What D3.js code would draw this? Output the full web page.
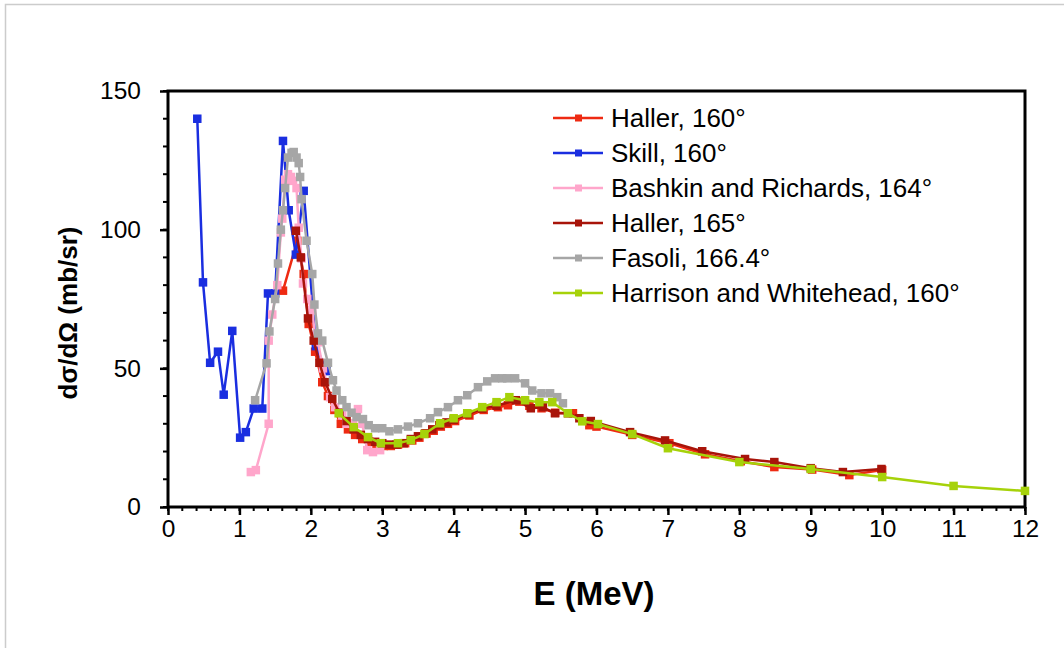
<!DOCTYPE html>
<html>
<head>
<meta charset="utf-8">
<title>Cross section vs energy</title>
<style>
    body { margin: 0; background: white; }
    text { font-family: "Liberation Sans", Arial, sans-serif; }
</style>
</head>
<body>
<div id="chart"></div>
<script src="https://cdn.jsdelivr.net/npm/d3@7/dist/d3.min.js"></script>
<script>
    // series data, energy in MeV, value in mb/sr
    let hallerE = [1.61,1.81,1.90,1.97,2.06,2.16,2.24,2.33,2.42,2.52,2.62,2.72,2.82,2.92,3.02,3.12,3.22,3.32,3.42,3.52,3.62,3.72,3.82,3.92,4.02,4.22,4.42,4.62,4.76,4.92,5.06,5.23,5.42,5.67,5.90,6.00,6.50,7.02,7.52,8.02,8.49,9.02,9.54,10.0]
    let hallerV = [78,96,84,66,56,45,40,35,30,28,26,24.5,23.5,22.5,22,22,22.5,23,24,25,26.5,27.5,29,30,31,33,35,36,36.7,38,36.5,35.6,34,33.8,29.5,29,26,23,19,16.5,14.4,13.5,11.5,13.3]

    let skillE = [0.41,0.49,0.59,0.70,0.78,0.90,1.01,1.09,1.20,1.32,1.40,1.50,1.61,1.69,1.79,1.90,2.07,2.22]
    let skillV = [140,81,52,56,40.5,63.5,25,27,35.5,35.5,77,77,132,107,91,114,58,49]

    let bashkinE = [1.16,1.23,1.41,1.41,1.46,1.53,1.58,1.60,1.64,1.68,1.72,1.75,1.80,1.83,1.87,1.89,1.95,2.02,2.06,2.10,2.17,2.27,2.34,2.44,2.50,2.59,2.66,2.72,2.79,2.87,2.97]
    let bashkinV = [12.6,13.3,30,60,69.4,80,99,104,118,120,119,117.6,115,100.7,89.6,80.6,75,70.9,61,59.4,50,39.6,36,33,30,30.2,35.3,30,20.5,19.8,20.5]

    let haller165E = [1.79,1.86,1.96,2.04,2.12,2.20,2.30,2.40,2.50,2.60,2.70,2.80,2.90,3.00,3.10,3.20,3.30,3.40,3.50,3.60,3.70,3.80,3.90,4.00,4.20,4.40,4.60,4.87,5.08,5.25,5.42,5.60,5.76,5.92,6.47,6.96,7.48,8.08,8.49,9.00,9.45,9.99]
    let haller165V = [99.6,90,68,60,52,45,39,34,31,28,26,24.5,23.5,23,22.5,22.5,23,24.5,25.5,26.5,28,29.5,30.5,31.5,33.5,35.5,36.5,38.5,35.6,36,33.8,33.8,32,31,27,24,20.1,17.3,16.2,14,12.6,13.7]

    let fasoliE = [1.22,1.38,1.42,1.50,1.54,1.58,1.61,1.64,1.68,1.73,1.76,1.80,1.83,1.85,1.87,1.94,2.02,2.05,2.10,2.16,2.24,2.31,2.36,2.44,2.50,2.57,2.64,2.73,2.81,2.90,3.00,3.10,3.22,3.36,3.50,3.67,3.78,3.92,4.06,4.19,4.34,4.47,4.58,4.68,4.75,4.86,5.00,5.10,5.23,5.35,5.45,5.53]
    let fasoliV = [38.5,51.8,63.3,75,87.8,100,107,115,126,127.7,128,126,124,119,111,96,84,73,62.6,60,52,45.7,42,38.5,36,34,32.4,31.7,29.5,28.4,28.4,27.3,28,29,30.2,32,34.2,36,38.5,40.3,43.2,45.3,46.4,46.4,46.4,46.4,44.6,42,41,41,39.6,37.4]

    let harrisonE = [2.39,2.60,2.80,2.98,3.22,3.40,3.59,3.81,4.00,4.19,4.40,4.60,4.78,5.00,5.20,5.38,5.60,5.80,6.02,6.50,7.00,8.00,9.00,10.0,11.0,12.0]
    let harrisonV = [33.8,28.8,25.2,23,23,24.1,26.3,30.2,32,33.8,36,37.8,39.6,38.5,37.8,37.8,33.8,30.9,29.9,26.3,21.2,16.2,13.7,10.8,7.6,5.8]

    let seriesNames = ["Haller, 160°", "Skill, 160°", "Bashkin and Richards, 164°", "Haller, 165°", "Fasoli, 166.4°", "Harrison and Whitehead, 160°"]
    let seriesColors = ["#ee2a12", "#1a2ee0", "#ffa6cb", "#a8140a", "#a6a6a6", "#a6d20a"]

    let xTicks = [0,1,2,3,4,5,6,7,8,9,10,11,12]
    let yTicks = [0,50,100,150]

    let width = 1064, height = 648
    let plotLeft = 168, plotRight = 1025, plotTop = 91, plotBottom = 507

    let svg = d3.select("#chart").append("svg")
        .attr("width", width)
        .attr("height", height)

    // light outer frame
    svg.append("rect")
        .attr("x", 5.5).attr("y", 4.5)
        .attr("width", width).attr("height", height)
        .attr("fill", "none")
        .attr("stroke", "#cccccc")
        .attr("stroke-width", 1.5)

    let x = d3.scaleLinear().domain([0, 12]).range([plotLeft, plotRight])
    let y = d3.scaleLinear().domain([0, 150]).range([plotBottom, plotTop])

    // minor ticks
    let xMinor = d3.range(0, 12.001, 0.2)
    svg.append("g").selectAll("line").data(xMinor).enter().append("line")
        .attr("x1", d => x(d)).attr("x2", d => x(d))
        .attr("y1", plotBottom).attr("y2", plotBottom + 4)
        .attr("stroke", "black").attr("stroke-width", 2)
    let yMinor = d3.range(0, 150.001, 10)
    svg.append("g").selectAll("line").data(yMinor).enter().append("line")
        .attr("x1", plotLeft).attr("x2", plotLeft - 5)
        .attr("y1", d => y(d)).attr("y2", d => y(d))
        .attr("stroke", "black").attr("stroke-width", 2)

    let xAxis = svg.append("g")
        .attr("transform", "translate(0," + plotBottom + ")")
        .call(d3.axisBottom(x).tickValues(xTicks).tickSize(8).tickPadding(5).tickSizeOuter(0))
    let yAxis = svg.append("g")
        .attr("transform", "translate(" + plotLeft + ",0)")
        .call(d3.axisLeft(y).tickValues(yTicks).tickSize(8).tickPadding(19).tickSizeOuter(0))

    xAxis.select(".domain").remove()
    yAxis.select(".domain").remove()
    svg.selectAll(".tick line").attr("stroke-width", 2.5)
    svg.selectAll(".tick text")
        .attr("font-size", 24.5)
        .attr("fill", "black")
        .style("font-family", "'Liberation Sans', Arial, sans-serif")

    // plot frame
    svg.append("rect")
        .attr("x", plotLeft).attr("y", plotTop)
        .attr("width", plotRight - plotLeft).attr("height", plotBottom - plotTop)
        .attr("fill", "none")
        .attr("stroke", "black")
        .attr("stroke-width", 3)

    let allSeries = [
        [hallerE, hallerV],
        [skillE, skillV],
        [bashkinE, bashkinV],
        [haller165E, haller165V],
        [fasoliE, fasoliV],
        [harrisonE, harrisonV]
    ]

    let line = d3.line().x(d => x(d[0])).y(d => y(d[1]))
    let ms = 8.5

    allSeries.forEach(function(s, i){
        let pts = s[0].map((e, j) => [e, s[1][j]])
        let g = svg.append("g")
        g.append("path")
            .datum(pts)
            .attr("d", line)
            .attr("fill", "none")
            .attr("stroke", seriesColors[i])
            .attr("stroke-width", 2.5)
        g.selectAll("rect").data(pts).enter().append("rect")
            .attr("x", d => x(d[0]) - ms / 2)
            .attr("y", d => y(d[1]) - ms / 2)
            .attr("width", ms).attr("height", ms)
            .attr("fill", seriesColors[i])
    })

    // legend
    let legend = svg.append("g").attr("transform", "translate(553,118)")
    let rows = legend.selectAll("g").data(seriesNames).enter().append("g")
        .attr("transform", (d, i) => "translate(0," + (i * 35) + ")")
    rows.append("line")
        .attr("x1", 0).attr("x2", 50)
        .attr("stroke", (d, i) => seriesColors[i])
        .attr("stroke-width", 2.5)
    rows.append("rect")
        .attr("x", 22).attr("y", -3.5)
        .attr("width", 7).attr("height", 7)
        .attr("fill", (d, i) => seriesColors[i])
    rows.append("text")
        .attr("x", 58).attr("y", 9)
        .attr("font-size", 26)
        .text(d => d)

    // axis titles
    svg.append("text")
        .attr("x", 594)
        .attr("y", 605)
        .attr("text-anchor", "middle")
        .attr("font-size", 33)
        .attr("font-weight", "bold")
        .text("E (MeV)")

    svg.append("text")
        .attr("transform", "translate(77,313) rotate(-90)")
        .attr("text-anchor", "middle")
        .attr("font-size", 26)
        .attr("font-weight", "bold")
        .text("dσ/dΩ (mb/sr)")
</script>
</body>
</html>
